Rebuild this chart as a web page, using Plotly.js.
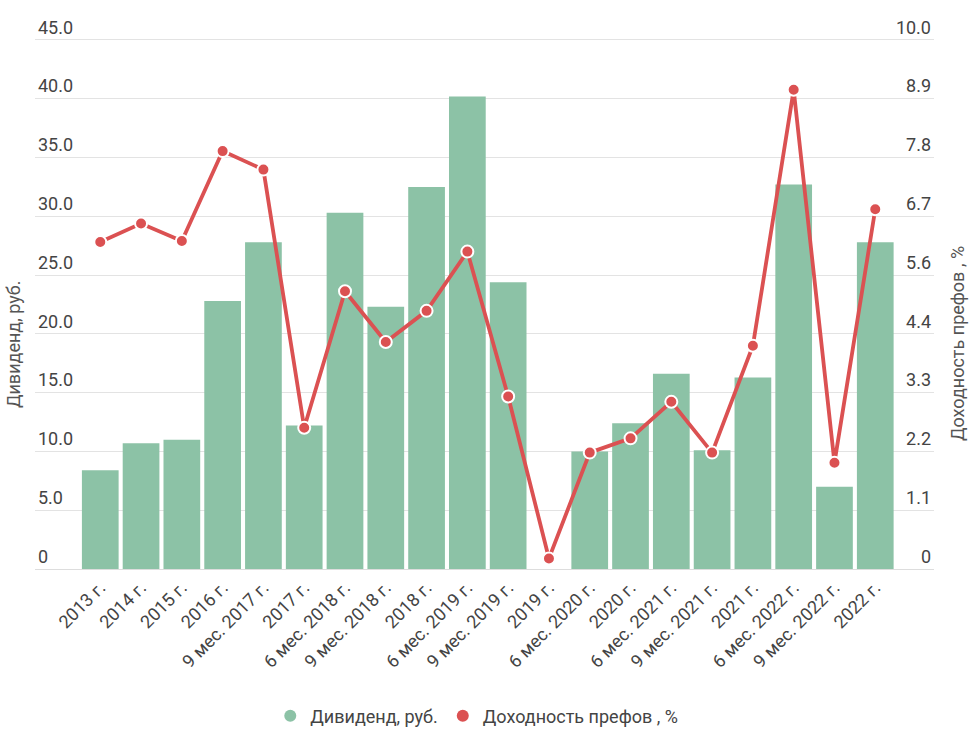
<!DOCTYPE html>
<html>
<head>
<meta charset="utf-8">
<script src="https://cdn.plot.ly/plotly-3.0.1.min.js"></script>
<style>
html,body{margin:0;padding:0;background:#fff;}
#chart{width:978px;height:737px;}
</style>
</head>
<body>
<div id="chart"></div>
<script>
const categories = ["2013 г.","2014 г.","2015 г.","2016 г.","9 мес. 2017 г.","2017 г.","6 мес. 2018 г.","9 мес. 2018 г.","2018 г.","6 мес. 2019 г.","9 мес. 2019 г.","2019 г.","6 мес. 2020 г.","2020 г.","6 мес. 2021 г.","9 мес. 2021 г.","2021 г.","6 мес. 2022 г.","9 мес. 2022 г.","2022 г."];
const dividend = [8.4,10.7,11.0,22.8,27.8,12.2,30.3,22.3,32.5,40.2,24.4,0,10.0,12.4,16.6,10.1,16.3,32.7,7.0,27.8];
const yieldPct = [6.18,6.53,6.2,7.9,7.55,2.67,5.25,4.29,4.88,6.0,3.26,0.2,2.2,2.47,3.16,2.2,4.22,9.06,2.01,6.8];
const leftTicks = [0,5,10,15,20,25,30,35,40,45];
const leftTickText = ["0","5.0","10.0","15.0","20.0","25.0","30.0","35.0","40.0","45.0"];
const rightTicks = [0,1.111,2.222,3.333,4.444,5.556,6.667,7.778,8.889,10];
const rightTickText = ["0","1.1","2.2","3.3","4.4","5.6","6.7","7.8","8.9","10.0"];
const names = ["Дивиденд, руб.","Доходность префов , %"];

const barColor = "#8cc2a6";
const lineColor = "#db5152";
const txt = "#444444";

const traces = [
  {type:"bar", x:categories, y:dividend, name:names[0], marker:{color:barColor}, showlegend:false, yaxis:"y"},
  {type:"scatter", mode:"lines+markers", x:categories, y:yieldPct, name:names[1], yaxis:"y2",
   line:{color:lineColor,width:3.8}, marker:{color:lineColor,size:12,line:{color:"#ffffff",width:2}}, showlegend:false},
  {type:"scatter", mode:"markers", x:[null], y:[null], name:names[0], marker:{color:barColor,size:17,symbol:"circle"}},
  {type:"scatter", mode:"markers", x:[null], y:[null], name:names[1], yaxis:"y2", marker:{color:lineColor,size:17,symbol:"circle"}}
];

const layout = {
  width:978, height:737,
  margin:{l:35, r:44, t:15, b:168},
  paper_bgcolor:"#fff", plot_bgcolor:"#fff",
  font:{family:"Roboto, sans-serif", color:txt, size:18},
  bargap:0.1,
  showlegend:true,
  legend:{orientation:"h", x:0.4875, xanchor:"center", xref:"container", y:0.0285, yanchor:"middle", yref:"container",
    font:{size:18,color:txt}, itemsizing:"constant", itemwidth:30},
  xaxis:{type:"category", range:[-1.6,20.44], tickangle:-45, tickfont:{size:18,color:txt},
    showgrid:false, showline:true, linecolor:"#dddddd", linewidth:1, ticks:"", fixedrange:true, automargin:false},
  yaxis:{range:[0,47.126], tickvals:leftTicks, ticktext:leftTickText, ticklabelposition:"inside top",
    gridcolor:"#e3e3e3", gridwidth:1, zeroline:false, showline:false, tickfont:{size:18,color:txt}, automargin:false},
  yaxis2:{range:[0,10.4725], tickvals:rightTicks, ticktext:rightTickText, overlaying:"y", side:"right",
    ticklabelposition:"inside top", showgrid:false, zeroline:false, showline:false, tickfont:{size:18,color:txt}, automargin:false},
  annotations:[
    {text:names[0], xref:"paper", yref:"paper", x:0, xshift:-22, y:0.406, xanchor:"center", yanchor:"middle",
     textangle:-90, showarrow:false, font:{size:18,color:"#555555"}},
    {text:names[1], xref:"paper", yref:"paper", x:1, xshift:23, y:0.406, xanchor:"center", yanchor:"middle",
     textangle:-90, showarrow:false, font:{size:18,color:"#555555"}}
  ]
};

Plotly.newPlot("chart", traces, layout, {displayModeBar:false, staticPlot:true});
</script>
</body>
</html>
